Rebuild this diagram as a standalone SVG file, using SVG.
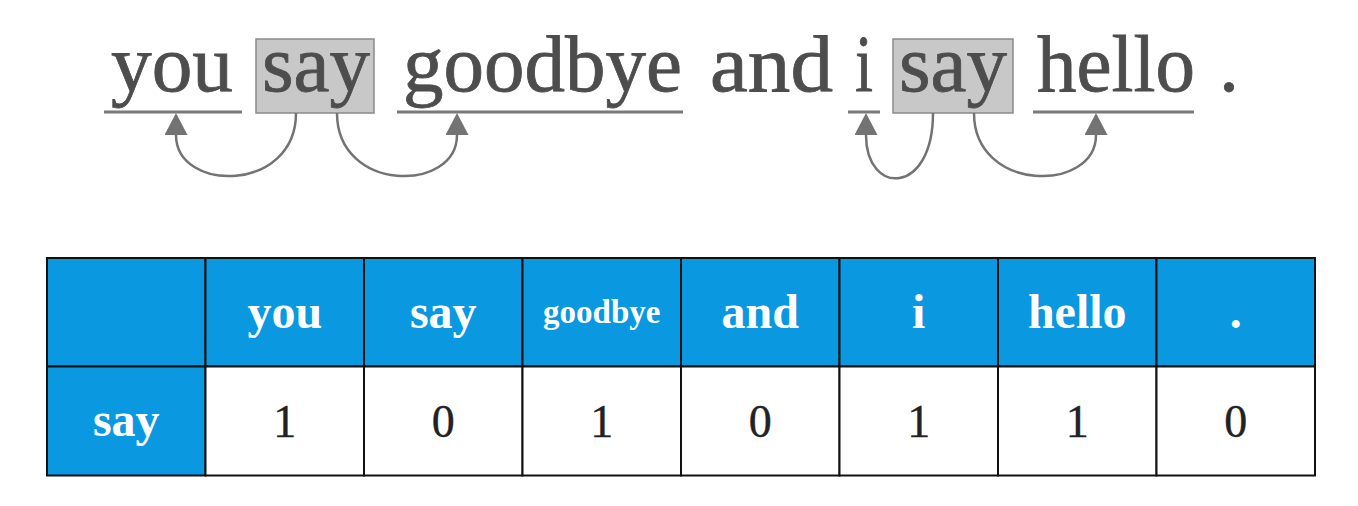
<svg xmlns="http://www.w3.org/2000/svg" width="1358" height="506" viewBox="0 0 1358 506">
<style>
.word{font-family:"Liberation Serif","Times New Roman",serif;font-size:80px;font-weight:normal;fill:#4d4d4d;stroke:#4d4d4d;stroke-width:0.8}
.ul{stroke:#7a7a7a;stroke-width:3;fill:none}
.box{fill:#c8c8c8;stroke:#8a8a8a;stroke-width:1.5}
.arc{stroke:#737373;stroke-width:2.5;fill:none;marker-end:url(#ah)}
.hd{fill:#0a98e0;stroke:#111;stroke-width:2}
.cell{fill:#fff;stroke:#111;stroke-width:2}
.ht{font-family:"Liberation Serif",serif;font-weight:bold;font-size:48px;fill:#fff;text-anchor:middle}
.vt{font-family:"Liberation Serif",serif;font-size:46px;fill:#222;text-anchor:middle;stroke:#222;stroke-width:0.4}
</style>
<defs>
<marker id="ah" markerUnits="userSpaceOnUse" viewBox="0 0 22 23" refX="0" refY="11.5" markerWidth="22" markerHeight="23" orient="auto">
<path d="M0,0 L22,11.5 L0,23 Z" fill="#737373"/>
</marker>
</defs>
<g id="sentence">
<g id="w-you"><text class="word" x="111" y="91" textLength="122" lengthAdjust="spacingAndGlyphs">you</text><line class="ul" x1="104" y1="112" x2="242" y2="112"/></g>
<g id="w-say1"><rect class="box" x="256" y="39" width="118" height="74"/><text class="word" x="262" y="91" textLength="108" lengthAdjust="spacingAndGlyphs">say</text></g>
<g id="w-goodbye"><text class="word" x="403" y="91" textLength="279" lengthAdjust="spacingAndGlyphs">goodbye</text><line class="ul" x1="397" y1="112" x2="683" y2="112"/></g>
<g id="w-and"><text class="word" x="710" y="91" textLength="123" lengthAdjust="spacingAndGlyphs">and</text></g>
<g id="w-i"><text class="word" x="855" y="91" textLength="18" lengthAdjust="spacingAndGlyphs">i</text><line class="ul" x1="848" y1="112" x2="880" y2="112"/></g>
<g id="w-say2"><rect class="box" x="893" y="39" width="120" height="74"/><text class="word" x="899" y="91" textLength="108" lengthAdjust="spacingAndGlyphs">say</text></g>
<g id="w-hello"><text class="word" x="1037" y="91" textLength="158" lengthAdjust="spacingAndGlyphs">hello</text><line class="ul" x1="1033" y1="112" x2="1194" y2="112"/></g>
<g id="w-dot"><text class="word" x="1219" y="91">.</text></g>
</g>
<g id="connectors">
<path class="arc" d="M296,113 C296,193 176,193 176,135"/>
<path class="arc" d="M337,113 C337,193 457,193 457,135"/>
<path class="arc" d="M933,113 C933,196 866,196 866,135"/>
<path class="arc" d="M974,113 C974,193 1096,193 1096,135"/>
</g>
<g id="table">
<g id="header">
<rect class="hd" x="47" y="258" width="158.5" height="108.5"/>
<rect class="hd" x="205.5" y="258" width="158.5" height="108.5"/>
<rect class="hd" x="364" y="258" width="158.5" height="108.5"/>
<rect class="hd" x="522.5" y="258" width="158.5" height="108.5"/>
<rect class="hd" x="681" y="258" width="158.5" height="108.5"/>
<rect class="hd" x="839.5" y="258" width="158.5" height="108.5"/>
<rect class="hd" x="998" y="258" width="158.5" height="108.5"/>
<rect class="hd" x="1156.5" y="258" width="158.5" height="108.5"/>
<text class="ht" x="284.75" y="328">you</text>
<text class="ht" x="443.25" y="328">say</text>
<text class="ht" x="601.75" y="323" style="font-size:33px">goodbye</text>
<text class="ht" x="760.25" y="328">and</text>
<text class="ht" x="918.75" y="328">i</text>
<text class="ht" x="1077.25" y="328">hello</text>
<text class="ht" x="1235.75" y="328">.</text>
</g>
<g id="row-say">
<rect class="hd" x="47" y="366.5" width="158.5" height="109"/>
<rect class="cell" x="205.5" y="366.5" width="158.5" height="109"/>
<rect class="cell" x="364" y="366.5" width="158.5" height="109"/>
<rect class="cell" x="522.5" y="366.5" width="158.5" height="109"/>
<rect class="cell" x="681" y="366.5" width="158.5" height="109"/>
<rect class="cell" x="839.5" y="366.5" width="158.5" height="109"/>
<rect class="cell" x="998" y="366.5" width="158.5" height="109"/>
<rect class="cell" x="1156.5" y="366.5" width="158.5" height="109"/>
<text class="ht" x="126.25" y="436">say</text>
<text class="vt" x="284.75" y="437">1</text>
<text class="vt" x="443.25" y="437">0</text>
<text class="vt" x="601.75" y="437">1</text>
<text class="vt" x="760.25" y="437">0</text>
<text class="vt" x="918.75" y="437">1</text>
<text class="vt" x="1077.25" y="437">1</text>
<text class="vt" x="1235.75" y="437">0</text>
</g>
</g>
</svg>
